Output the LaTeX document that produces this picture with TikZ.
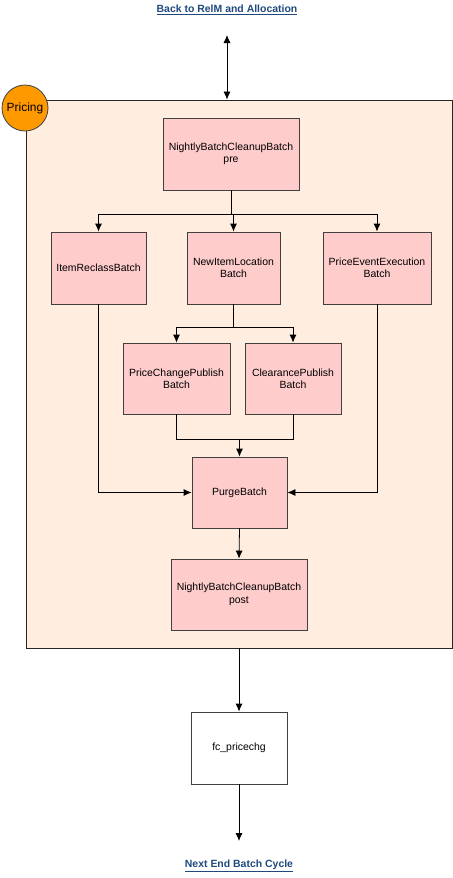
\documentclass[tikz,border=0pt]{standalone}
\usepackage{fontspec}
\setmainfont{Liberation Sans}
\usetikzlibrary{positioning,shapes,arrows.meta}
\definecolor{boxpink}{RGB}{255,204,204}
\definecolor{areapeach}{RGB}{255,238,224}
\definecolor{tagorange}{RGB}{255,153,0}
\definecolor{linkblue}{RGB}{31,73,125}
\tikzstyle{batch}=[draw=black!75,fill=boxpink,align=center,inner sep=2pt]
\tikzstyle{link}=[text=linkblue,font=\fontsize{10.5}{12}\selectfont\bfseries]
\newcommand{\newBatch}[5]{\node[batch,minimum width=#4,minimum height=#5](#1) at (#2) {#3};}
\newcommand{\newLink}[3]{\node[link](#1) at (#2) {\underline{#3}};}

\begin{document}
\begin{tikzpicture}[x=1bp,y=-1bp,>={Latex[length=8bp,width=7bp]},
      line width=0.8pt,
      font=\fontsize{10.5}{12.5}\selectfont
      ]
      \useasboundingbox (0,0) rectangle (453,878);
      % pricing area
      \node[draw=black!85,fill=areapeach,minimum width=426bp,minimum height=548bp,inner sep=0pt](pricing) at (239,374) {};
      \node[circle,draw=black!75,fill=tagorange,minimum size=46bp,inner sep=0pt,font=\fontsize{12}{14}\selectfont](tag) at (25,108) {Pricing};
      \newLink{back}{227,10}{Back to RelM and Allocation}
      \newLink{next}{239,866}{Next End Batch Cycle}
      \coordinate (topend) at (227,35);
      \coordinate (bottomend) at (239,841);
      % batches
      \newBatch{pre}{231,154}{NightlyBatchCleanupBatch\\pre}{136bp}{72bp}
      \newBatch{reclass}{98.5,268}{ItemReclassBatch}{95bp}{72bp}
      \newBatch{newloc}{233.5,268}{NewItemLocation\\Batch}{93bp}{72bp}
      \newBatch{event}{377,268}{PriceEventExecution\\Batch}{108bp}{72bp}
      \newBatch{pcp}{176.5,378.5}{PriceChangePublish\\Batch}{107bp}{71bp}
      \newBatch{clr}{293,378.5}{ClearancePublish\\Batch}{96bp}{71bp}
      \newBatch{purge}{239.5,492.5}{PurgeBatch}{95bp}{71bp}
      \newBatch{post}{239,594.5}{NightlyBatchCleanupBatch\\post}{136bp}{71bp}
      \node[batch,fill=white,minimum width=96bp,minimum height=72bp](fc) at (239,748) {fc\_pricechg};
      % flow
      \draw[<->] (topend) -- (topend |- pricing.north);
      \draw[->] (pre.south) -- ++(0,24) -| (reclass.north);
      \draw[->] (pre.south) -- ++(0,24) -| (newloc.north);
      \draw[->] (pre.south) -- ++(0,24) -| (event.north);
      \draw[->] (newloc.south) -- ++(0,23) -| (pcp.north);
      \draw[->] (newloc.south) -- ++(0,23) -| (clr.north);
      \draw (pcp.south) -- ++(0,25) coordinate (join) -| (clr.south);
      \draw[->] (join -| purge.north) -- (purge.north);
      \draw[->] (reclass.south) |- (purge.west);
      \draw[->] (event.south) |- (purge.east);
      \draw[->] (purge.south) -- (post.north);
      \draw[->] (pricing.south) -- (fc.north);
      \draw[->] (fc.south) -- (bottomend);
\end{tikzpicture}
\end{document}
